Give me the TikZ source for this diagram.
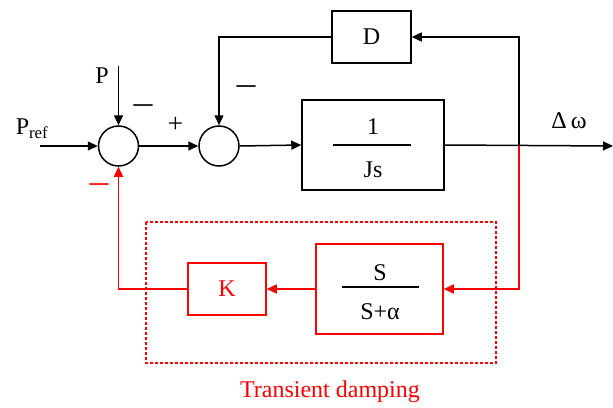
\documentclass[tikz,border=0pt]{standalone}
\usepackage{fontspec}
\setmainfont{Liberation Serif}
\usetikzlibrary{arrows.meta}
\begin{document}
\begin{tikzpicture}[x=1pt,y=-1pt,
  line width=1.5pt,
  >={Triangle[length=10pt,width=9pt]},
  sumnode/.style={circle,draw,minimum size=40pt,inner sep=0pt},
  blk/.style={draw,inner sep=0pt},
  lbl/.style={font=\fontsize{24}{26}\selectfont,inner sep=0pt},
  sgn/.style={font=\fontsize{19}{22}\selectfont,inner sep=0pt},
  plussgn/.style={font=\fontsize{27}{30}\selectfont,inner sep=0pt},
  fracline/.style={line width=1.2pt},
  redline/.style={red,line width=1.5pt}
]
\useasboundingbox (0,0) rectangle (613,407);
% summing junctions
\node[sumnode] (s1) at (118.5,146) {};
\node[sumnode] (s2) at (219,146) {};
% blocks
\node[blk,minimum width=79pt,minimum height=52pt] (D) at (371.5,37) {};
\node[lbl] (Dt) at (D) {D};
\node[blk,minimum width=142pt,minimum height=90pt] (J) at (373,145) {};
\node[lbl] (Jn) at (373,127) {1};
\node[lbl] (Jd) at (373,170) {Js};
\draw[fracline] (333,145) -- (411,145);
\node[blk,draw=red,minimum width=127pt,minimum height=90pt] (S) at (379.5,289) {};
\node[lbl] (Sn) at (380,273) {S};
\node[lbl] (Sd) at (380,312) {S+α};
\draw[fracline] (342,287) -- (419,287);
\node[blk,draw=red,minimum width=78pt,minimum height=52pt] (K) at (227,289) {};
\node[lbl,red] (Kt) at (K) {K};
% dashed group
\draw[red,line width=1.2pt,dash pattern=on 3pt off 2pt] (146,222) rectangle (496,363);
\node[lbl,red] (td) at (330,392) {Transient damping};
% labels
\node[lbl] (Pref) at (32,129) {P\textsubscript{ref}};
\node[lbl] (Pl) at (102,76) {P};
\node[lbl] (dw) at (569,121) {Δ\,ω};
\node[sgn] (m1) at (143,109) {\scalebox{1}[1.8]{—}};
\node[sgn] (m2) at (246,90) {\scalebox{1}[1.8]{—}};
\node[plussgn] (plus) at (175.5,125) {+};
\node[sgn,red] (m3) at (99,188) {\scalebox{1}[1.8]{—}};
% coordinates
\coordinate (pref) at (40,146);
\coordinate (ptop) at (118.5,66);
\coordinate (br) at (519,146);
\coordinate (out) at (613,146);
% connectors
\draw[->] (pref) -- (s1.west);
\draw[->] (ptop) -- (s1.north);
\draw[->] (s1.east) -- (s2.west);
\draw[->] (s2.east) -- (J.west);
\draw[->] (J.east) -- (out);
\draw[->] (br) |- (D.east);
\draw[->] (D.west) -| (s2.north);
\draw[redline,->] (br) |- (S.east);
\draw[redline,->] (S.west) -- (K.east);
\draw[redline,->] (K.west) -| (s1.south);
\end{tikzpicture}
\end{document}
